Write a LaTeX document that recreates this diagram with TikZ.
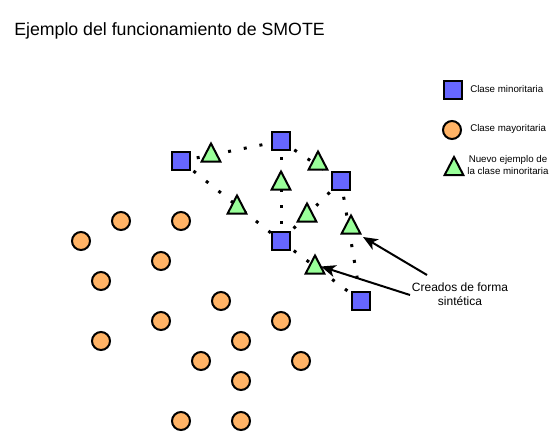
\documentclass[tikz,border=0pt]{standalone}
\usepackage{fontspec}
\setmainfont{Liberation Sans}
\usetikzlibrary{shapes.geometric,arrows.meta}
\definecolor{minc}{HTML}{6666FF}
\definecolor{majc}{HTML}{FFB366}
\definecolor{newc}{HTML}{99FF99}
\begin{document}
\begin{tikzpicture}[x=0.75pt,y=-0.75pt,
  sq/.style={draw=black,line width=1.5pt,fill=minc,minimum size=13.5pt,inner sep=0pt,rectangle},
  circ/.style={draw=black,line width=1.5pt,fill=majc,minimum size=13.5pt,inner sep=0pt,circle},
  tri/.style={draw=black,line width=1.5pt,fill=newc,isosceles triangle,isosceles triangle stretches,shape border rotate=90,minimum width=14pt,minimum height=13.5pt,inner sep=0pt,anchor=lower side},
  dots/.style={line width=2.25pt,dash pattern=on 2.25pt off 9.75pt},
  arr/.style={line width=1.5pt,-{Stealth[length=11pt,width=9pt,inset=3pt]}},
  lbl/.style={font=\fontsize{9pt}{10.5pt}\selectfont,align=center,inner sep=0pt},
  leg/.style={font=\fontsize{7.3pt}{8.5pt}\selectfont,align=center,inner sep=0pt}]
\useasboundingbox (0,0) rectangle (556,432);
\node[anchor=west,inner sep=0pt,font=\fontsize{13.3pt}{16pt}\selectfont] (title) at (14,31) {Ejemplo del funcionamiento de SMOTE};
% squares coordinates
\coordinate (c1) at (181,161);
\coordinate (c2) at (281,141);
\coordinate (c3) at (341,181);
\coordinate (c4) at (281,241);
\coordinate (c5) at (361,301);
% dotted connectors
\draw[dots] (c1) -- (c2);
\draw[dots] (c2) -- (c3);
\draw[dots] (c2) -- (c4);
\draw[dots] (c1) -- (c4);
\draw[dots] (c3) -- (c4);
\draw[dots] (c3) -- (c5);
\draw[dots] (c4) -- (c5);
% circles
\foreach \n/\x/\y in {o1/121/221,o2/181/221,o3/81/241,o4/161/261,o5/101/281,o6/221/301,o7/161/321,o8/281/321,o9/101/341,o10/241/341,o11/201/361,o12/301/361,o13/241/381,o14/181/421,o15/241/421}
  \node[circ] (\n) at (\x,\y) {};
% triangles
\node[tri] (t1) at (211,162.5) {};
\node[tri] (t2) at (318,170.5) {};
\node[tri] (t3) at (281,190.5) {};
\node[tri] (t4) at (237,214.5) {};
\node[tri] (t5) at (307,222.5) {};
\node[tri] (t6) at (351,234.5) {};
\node[tri] (t7) at (315,274.5) {};
% squares
\node[sq] (s1) at (c1) {};
\node[sq] (s2) at (c2) {};
\node[sq] (s3) at (c3) {};
\node[sq] (s4) at (c4) {};
\node[sq] (s5) at (c5) {};
% label and arrows
\node[lbl] (lab) at (460,294) {Creados de forma\\sintética};
\coordinate (a1s) at (427,275);
\coordinate (a2s) at (410,295);
\draw[arr] (a1s) -- (363,237);
\draw[arr] (a2s) -- (321,266.5);
% legend
\node[sq] (ls) at (453,90) {};
\node[leg,anchor=west] (lst) at (470,89) {Clase minoritaria};
\node[circ] (lc) at (452,130) {};
\node[leg,anchor=west] (lct) at (470,129) {Clase mayoritaria};
\node[tri] (lt) at (454,176) {};
\node[leg] (ltt) at (508,165) {Nuevo ejemplo de\\la clase minoritaria};
\end{tikzpicture}
\end{document}
